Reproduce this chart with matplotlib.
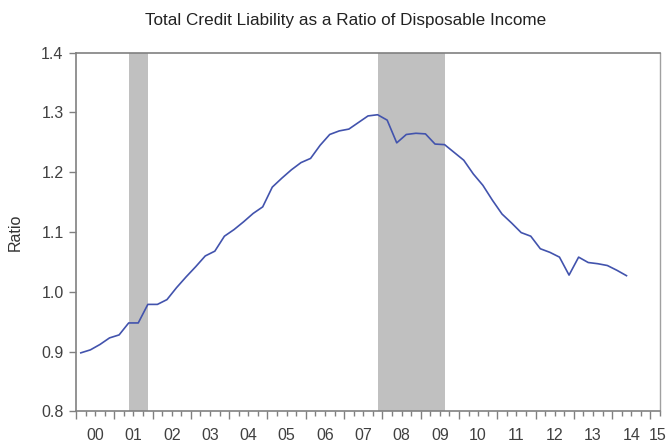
import numpy as np
import matplotlib
matplotlib.use("Agg")
import matplotlib.pyplot as plt
from matplotlib.transforms import blended_transform_factory

plt.rcParams['font.family'] = ['Liberation Sans', 'DejaVu Sans']

# quarterly ratio, 2000Q1 .. 2014Q2
ratio = [0.898, 0.903, 0.912, 0.923, 0.928, 0.948, 0.948, 0.979,
         0.979, 0.987, 1.007, 1.025, 1.042, 1.060, 1.068, 1.093,
         1.104, 1.117, 1.131, 1.142, 1.175, 1.190, 1.204, 1.216,
         1.223, 1.245, 1.263, 1.269, 1.272, 1.283, 1.294, 1.296,
         1.287, 1.249, 1.263, 1.265, 1.264, 1.247, 1.246, 1.233,
         1.220, 1.197, 1.178, 1.153, 1.130, 1.115, 1.099, 1.093,
         1.072, 1.066, 1.058, 1.028, 1.058, 1.049, 1.047, 1.044,
         1.036, 1.027]
start_year = 2000
recessions = [(2001.375, 2001.875), (2007.875, 2009.625)]
year_labels = ['00', '01', '02', '03', '04', '05', '06', '07',
               '08', '09', '10', '11', '12', '13', '14', '15']

t = start_year + 0.125 + 0.25 * np.arange(len(ratio))

fig = plt.figure(figsize=(6.71, 4.45), dpi=100)
ax = fig.add_axes([0.1133, 0.0753, 0.8703, 0.8067])

for a, b in recessions:
    ax.axvspan(a, b, color='#c0c0c0', lw=0, zorder=1)

ax.plot(t, ratio, color='#4253ad', lw=1.2, zorder=3)

ax.set_xlim(2000, 2015.25)
ax.set_ylim(0.8, 1.4)
ax.set_yticks([0.8, 0.9, 1.0, 1.1, 1.2, 1.3, 1.4])
ax.set_yticklabels(['0.8', '0.9', '1.0', '1.1', '1.2', '1.3', '1.4'])
ax.set_xticks(np.arange(2000, 2016))
ax.set_xticklabels([])
ax.set_xticks(np.arange(2000, 2015.3, 0.25), minor=True)

ax.tick_params(axis='y', length=5, width=1, color='#808080', labelsize=11.5,
               labelcolor='#404040', pad=4)
ax.tick_params(axis='x', which='major', length=6, width=1, color='#808080')
ax.tick_params(axis='x', which='minor', length=3.5, width=1, color='#808080')

trans = blended_transform_factory(ax.transData, ax.transAxes)
for i, lab in enumerate(year_labels):
    xpos = start_year + i + 0.5 if i < len(year_labels) - 1 else 2015.2
    ax.text(xpos, -0.045, lab, transform=trans, ha='center', va='top',
            fontsize=11.5, color='#404040', clip_on=False)

for s in ['left', 'bottom', 'top']:
    ax.spines[s].set_color('#808080')
    ax.spines[s].set_linewidth(1.2)
ax.spines['right'].set_color('#a0a0a0')
ax.spines['right'].set_linewidth(1)

ax.set_ylabel('Ratio', fontsize=11.5, color='#333333', labelpad=13)
ax.set_title('Total Credit Liability as a Ratio of Disposable Income',
             fontsize=12.3, color='#222222', pad=20, x=0.462)

fig.savefig('out.png', dpi=100, facecolor='white')
